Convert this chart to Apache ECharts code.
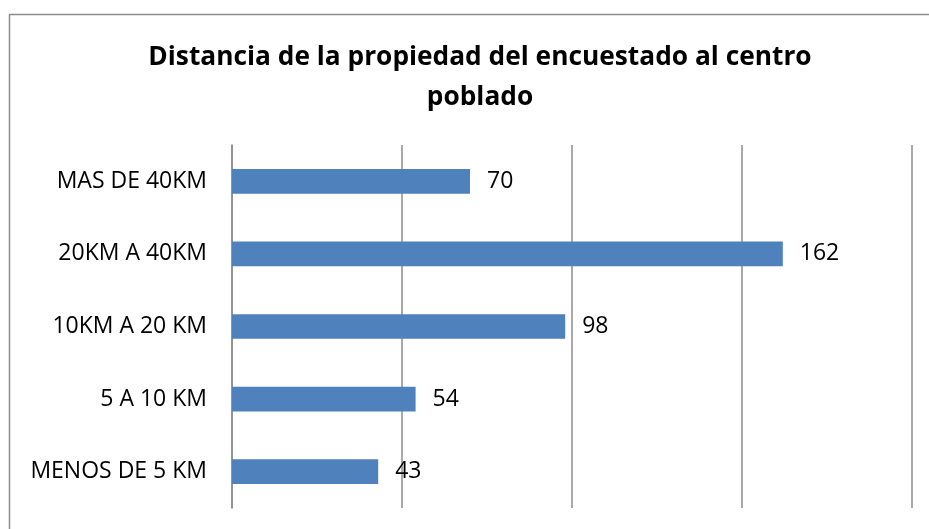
<!DOCTYPE html>
<html>
<head>
<meta charset="utf-8">
<script src="https://cdn.jsdelivr.net/npm/echarts@6/dist/echarts.min.js"></script>
<style>
html, body { margin: 0; padding: 0; background: #fff; }
#main { width: 929px; height: 529px; }
</style>
</head>
<body>
<div id="main"></div>
<script>
var categories = ['MENOS DE 5 KM', '5 A 10 KM', '10KM A 20 KM', '20KM A 40KM', 'MAS DE 40KM'];
var values = [43, 54, 98, 162, 70];
var xTicks = [0, 50, 100, 150, 200];

var chart = echarts.init(document.getElementById('main'));
chart.setOption({
    animation: false,
    textStyle: { fontFamily: 'Open Sans' },
    title: {
        text: 'Distancia de la propiedad del encuestado al centro\npoblado',
        left: 475,
        top: 33,
        textAlign: 'center',
        textStyle: {
            fontFamily: 'Open Sans',
            fontWeight: 'bold',
            fontSize: 26.3,
            lineHeight: 40,
            color: '#000'
        }
    },
    graphic: [{
        type: 'rect',
        shape: { x: 9.5, y: 14.5, width: 1000, height: 1000 },
        style: { fill: 'none', stroke: '#8c8c8c', lineWidth: 1.5 },
        silent: true
    }],
    grid: { left: 232, right: 17, top: 145, bottom: 21 },
    xAxis: {
        type: 'value',
        min: xTicks[0],
        max: xTicks[xTicks.length - 1],
        interval: 50,
        axisLabel: { show: false },
        axisLine: { show: false },
        axisTick: { show: false },
        splitLine: { lineStyle: { color: '#8c8c8c', width: 1.5 } }
    },
    yAxis: {
        type: 'category',
        data: categories,
        axisLine: { show: true, lineStyle: { color: '#8c8c8c', width: 1.5 } },
        axisTick: { show: false },
        axisLabel: { color: '#000', fontSize: 23, margin: 25 }
    },
    series: [{
        type: 'bar',
        data: values,
        barWidth: '34%',
        itemStyle: { color: '#4f81bd' },
        label: {
            show: true,
            position: 'right',
            distance: 17,
            color: '#000',
            fontSize: 23
        }
    }]
});
</script>
</body>
</html>
